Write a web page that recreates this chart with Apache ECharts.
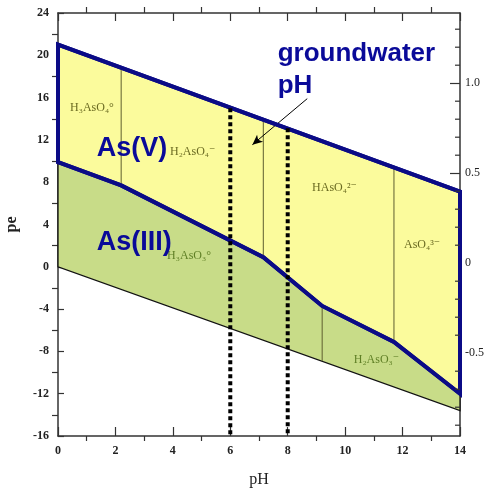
<!DOCTYPE html>
<html>
<head>
<meta charset="utf-8">
<script src="https://cdn.jsdelivr.net/npm/echarts@6/dist/echarts.min.js"></script>
<style>html,body{margin:0;padding:0;background:#fff;}#c{width:487px;height:492px;}</style>
</head>
<body>
<div id="c"></div>
<script>
// ---- data (pe vs pH) ----
const upperPH = [0, 14];                       // O2/H2O stability limit
const upperPe = [21.0, 7.1];
const redoxPH = [0, 2.2, 7.15, 9.2, 11.7, 14]; // As(V)/As(III) boundary
const redoxPe = [9.9, 7.7, 0.9, -3.7, -7.1, -12.0];
const lowerPH = [0, 14];                       // H2O/H2 stability limit
const lowerPe = [0, -13.6];

const pkaPH = [2.2, 7.15, 11.7, 9.2];          // species boundary lines
const pkaTopPe = [18.8, 13.9, 9.4, -3.7];
const pkaBotPe = [7.7, 0.9, -7.1, -8.9];

const gwPH = [6, 8];                           // groundwater pH range
const gwTopPe = [15.0, 13.1];
const gwBotPe = [-16, -16];

const speciesText = ['H\u2083AsO\u2084\u00B0', 'H\u2082AsO\u2084\u207B', 'HAsO\u2084\u00B2\u207B', 'AsO\u2084\u00B3\u207B', 'H\u2083AsO\u2083\u00B0', 'H\u2082AsO\u2083\u207B'];
const speciesPH = [0.42, 3.9, 8.85, 12.05, 3.8, 10.3];
const speciesPe = [15.0, 10.9, 7.5, 2.1, 1.0, -8.8];
const speciesColor = ['#6b6b22', '#6b6b22', '#6b6b22', '#6b6b22', '#5f7f25', '#5f7f25'];

const annoText = ['As(V)', 'As(III)', 'groundwater', 'pH'];
const annoPH = [1.35, 1.35, 7.65, 7.65];
const annoPe = [11.2, 2.3, 20.1, 17.1];

const arrowFrom = [8.68, 15.9];
const arrowTo = [6.77, 11.55];

const peTicks = [-16, 24, 4];                  // min, max, label interval
const ehMin = -0.96, ehMax = 1.39;
const ehLabels = [-0.5, 0, 0.5, 1.0];
const ehMinor = [-0.9,-0.8,-0.7,-0.6,-0.4,-0.3,-0.2,-0.1,0.1,0.2,0.3,0.4,0.6,0.7,0.8,0.9,1.1,1.2,1.3];

// ---- build ----
const zip = (a, b) => a.map((v, i) => [v, b[i]]);
const upperPts = zip(upperPH, upperPe);
const redoxPts = zip(redoxPH, redoxPe);
const lowerPts = zip(lowerPH, lowerPe);
const yellowPoly = [[redoxPH[0], redoxPe[0]], ...upperPts, ...redoxPts.slice().reverse().slice(0, -1)];
const greenPoly = [...redoxPts, ...lowerPts.slice().reverse()];

function polySeries(pts, fill, stroke, width, z) {
  return {
    type: 'custom', coordinateSystem: 'cartesian2d', xAxisIndex: 0, yAxisIndex: 0, z: z, silent: true,
    data: pts,
    renderItem: function (params, api) {
      if (params.dataIndex !== 0) return null;
      return {
        type: 'polygon',
        shape: { points: pts.map(p => api.coord(p)) },
        style: { fill: fill, stroke: stroke, lineWidth: width, lineJoin: 'miter' }
      };
    }
  };
}

function vlineSeries(xs, tops, bots, color, width, dash, z) {
  return {
    type: 'custom', coordinateSystem: 'cartesian2d', xAxisIndex: 0, yAxisIndex: 0, z: z, silent: true,
    data: xs.map((x, i) => [x, tops[i], bots[i]]),
    renderItem: function (params, api) {
      const a = api.coord([api.value(0), api.value(1)]);
      const b = api.coord([api.value(0), api.value(2)]);
      return {
        type: 'line',
        shape: { x1: a[0], y1: a[1], x2: b[0], y2: b[1] },
        style: { stroke: color, lineWidth: width, lineDash: dash }
      };
    }
  };
}

function textSeries(texts, xs, ys, font, colors, z) {
  return {
    type: 'custom', coordinateSystem: 'cartesian2d', xAxisIndex: 0, yAxisIndex: 0, z: z, silent: true,
    data: xs.map((x, i) => [x, ys[i], i]),
    renderItem: function (params, api) {
      const i = api.value(2);
      const p = api.coord([api.value(0), api.value(1)]);
      return {
        type: 'text', x: p[0], y: p[1],
        style: { text: texts[i], fill: Array.isArray(colors) ? colors[i] : colors, font: font, align: 'left', verticalAlign: 'middle' }
      };
    }
  };
}

// minor ticks on the right (Eh) axis, placed through the Eh scale
const ehMinorTicks = {
  type: 'custom', coordinateSystem: 'cartesian2d', xAxisIndex: 0, yAxisIndex: 1, z: 10, silent: true,
  data: ehMinor.map(v => [14, v]),
  renderItem: function (params, api) {
    const p = api.coord([api.value(0), api.value(1)]);
    return { type: 'line', shape: { x1: p[0], y1: p[1], x2: p[0] - 5, y2: p[1] }, style: { stroke: '#333', lineWidth: 1.2 } };
  }
};

const serif = '"Liberation Serif", "DejaVu Serif", serif';
const frame = { show: true, onZero: false, lineStyle: { color: '#333', width: 1.5 } };

const chart = echarts.init(document.getElementById('c'), null, { renderer: 'canvas' });
chart.setOption({
  animation: false,
  backgroundColor: '#fff',
  grid: { left: 58, right: 27, top: 13, bottom: 56, containLabel: false, outerBoundsMode: 'none' },
  xAxis: [
    {
      type: 'value', min: 0, max: 14, interval: 2, position: 'bottom',
      axisLine: frame,
      axisTick: { show: true, inside: true, length: 9, lineStyle: { color: '#333', width: 1.2 } },
      minorTick: { show: true, splitNumber: 2, length: -5, lineStyle: { color: '#333', width: 1.2 } },
      splitLine: { show: false }, minorSplitLine: { show: false },
      axisLabel: { color: '#222', fontFamily: serif, fontWeight: 'bold', fontSize: 12, margin: 9 },
      name: 'pH', nameLocation: 'middle', nameGap: 36,
      nameTextStyle: { color: '#222', fontFamily: serif, fontSize: 16 }
    },
    {
      type: 'value', min: 0, max: 14, interval: 2, position: 'top',
      axisLine: frame,
      axisTick: { show: true, inside: true, length: 8, lineStyle: { color: '#333', width: 1.2 } },
      minorTick: { show: true, splitNumber: 2, length: -6, lineStyle: { color: '#333', width: 1.2 } },
      splitLine: { show: false }, axisLabel: { show: false }
    }
  ],
  yAxis: [
    {
      type: 'value', min: peTicks[0], max: peTicks[1], interval: peTicks[2], position: 'left',
      axisLine: frame,
      axisTick: { show: true, inside: true, length: 6, lineStyle: { color: '#333', width: 1.2 } },
      minorTick: { show: true, splitNumber: 2, length: -6, lineStyle: { color: '#333', width: 1.2 } },
      splitLine: { show: false }, minorSplitLine: { show: false },
      axisLabel: { color: '#222', fontFamily: serif, fontWeight: 'bold', fontSize: 12, margin: 9 },
      name: 'pe', nameLocation: 'middle', nameGap: 38, nameRotate: 90,
      nameTextStyle: { color: '#222', fontFamily: serif, fontSize: 16, fontWeight: 'bold' }
    },
    {
      type: 'value', min: ehMin, max: ehMax, position: 'right',
      axisLine: frame,
      axisTick: { show: true, inside: true, length: 10, customValues: ehLabels, lineStyle: { color: '#333', width: 1.2 } },
      splitLine: { show: false },
      axisLabel: {
        show: true, customValues: ehLabels, color: '#222', fontFamily: serif, fontSize: 12, margin: 5,
        formatter: v => (Math.abs(v) < 1e-9 ? '0' : (Math.abs(v - 1) < 1e-9 ? '1.0' : String(v)))
      }
    }
  ],
  series: [
    polySeries(greenPoly, '#c8dc88', '#111', 1.3, 2),
    polySeries(yellowPoly, '#fbfb9c', '#0b0b86', 4, 3),
    vlineSeries(pkaPH, pkaTopPe, pkaBotPe, '#5e5e30', 1, null, 4),
    vlineSeries(gwPH, gwTopPe, gwBotPe, '#000', 4, [4, 3], 6),
    polySeries(yellowPoly, 'rgba(0,0,0,0)', '#0b0b86', 4, 5),
    textSeries(speciesText, speciesPH, speciesPe, '12px ' + serif, speciesColor, 7),
    textSeries(annoText.slice(0, 2), annoPH.slice(0, 2), annoPe.slice(0, 2), 'bold 27px "Liberation Sans", Arial, sans-serif', '#0a0a99', 8),
    textSeries(annoText.slice(2), annoPH.slice(2), annoPe.slice(2), 'bold 26px "Liberation Sans", Arial, sans-serif', '#0a0a99', 8),
    ehMinorTicks,
    {
      type: 'line', xAxisIndex: 0, yAxisIndex: 0, data: [], silent: true, z: 9,
      markLine: {
        silent: true, symbol: ['none', 'arrow'], symbolSize: [7, 10],
        label: { show: false },
        lineStyle: { color: '#000', width: 1, type: 'solid' },
        data: [[{ coord: arrowFrom }, { coord: arrowTo }]]
      }
    }
  ]
});
</script>
</body>
</html>
